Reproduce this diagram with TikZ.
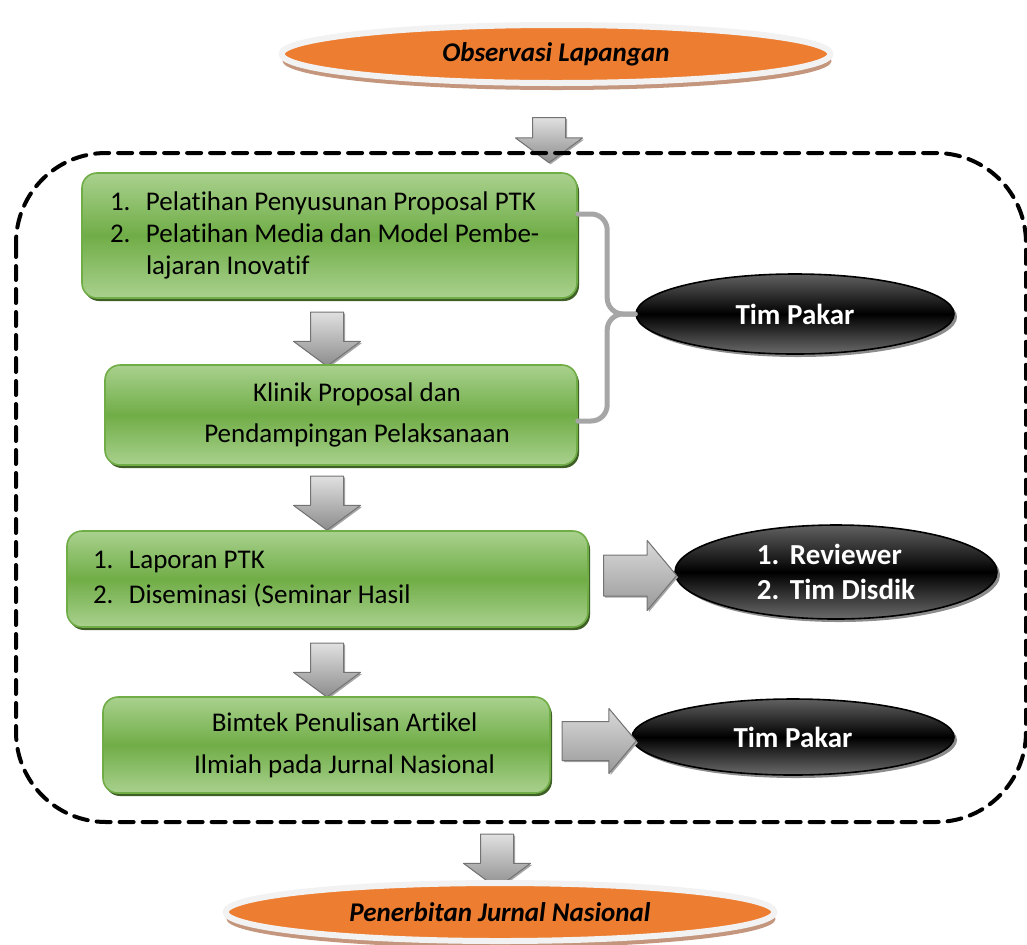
\documentclass[tikz,border=0pt]{standalone}
\usepackage{fontspec}
\setmainfont{Carlito}[Ligatures=NoCommon]
\usetikzlibrary{shapes.geometric,shapes.arrows,shadows,calc}
\definecolor{oranye}{RGB}{237,125,49}
\definecolor{hijaumuda}{RGB}{169,209,142}
\definecolor{hijau}{RGB}{112,173,71}
\definecolor{hijautua}{RGB}{62,96,38}
\definecolor{coklat}{RGB}{196,150,125}
\newcommand\itm[3][18pt]{\mbox{\spaceskip=0pt\xspaceskip=0pt\makebox[#1][l]{#2}#3}}

\begin{document}
\begin{tikzpicture}[x=.5pt, y=-.5pt, line join=round, line cap=round,
	kotak/.style={rectangle, rounded corners=7.5pt, draw=hijau, line width=.8pt,
		top color=hijaumuda, bottom color=hijaumuda, middle color=hijau,
		drop shadow={shadow xshift=1pt, shadow yshift=-1.5pt, fill=hijautua, opacity=1},
		inner sep=0pt, inner xsep=14pt},
	oval/.style={ellipse, fill=oranye, draw=black!5, line width=3pt, inner sep=0pt,
		minimum width=274.5pt, minimum height=29pt,
		drop shadow={shadow xshift=.5pt, shadow yshift=-3.5pt, fill=coklat, opacity=1},
		font=\fontsize{13.5}{16}\selectfont\bfseries\itshape},
	hitam/.style={ellipse, draw=black, line width=.8pt, inner sep=0pt,
		top color=black!62, bottom color=black!58, middle color=black,
		drop shadow={shadow xshift=1.5pt, shadow yshift=-1.5pt, fill=black!45, opacity=1},
		text=white, font=\fontsize{14.5}{17.5}\selectfont\bfseries},
	panah/.style={single arrow, draw=black!55, line width=.5pt, inner sep=8pt,
		minimum width=0pt, minimum height=27pt, single arrow head extend=8.5pt,
		single arrow tip angle=107, top color=black!12, bottom color=black!45,
		drop shadow={shadow xshift=.8pt, shadow yshift=-.8pt, fill=black!35, opacity=1}},
	kurung/.style={draw=black!35, line width=2.5pt, rounded corners=8pt}]
	\useasboundingbox (0,0) rectangle (1027,944);
	% alur utama
	\node[oval] (obs) at (556,54) {Observasi Lapangan};
	\node[panah, shape border rotate=270, minimum height=22.5pt] (p1) at (549,134) {};
	\node[kotak, minimum height=62.5pt, text width=219.5pt, align=left,
		font=\fontsize{13.5}{16}\selectfont] (box1) at (329.5,235.5)
		{\itm{1.}{Pelatihan Penyusunan Proposal PTK}\\ \itm{2.}{Pelatihan Media dan Model Pembe-}\\ \itm{}{lajaran Inovatif}};
	\node[panah, shape border rotate=270] (p2) at (327,333) {};
	\node[kotak, minimum width=236pt, minimum height=50pt, align=center,
		font=\fontsize{13.5}{20.5}\selectfont] (box2) at (341,415)
		{\hspace*{16pt}Klinik Proposal dan\\\hspace*{16pt}Pendampingan Pelaksanaan};
	\node[panah, shape border rotate=270] (p3) at (327,497) {};
	\node[kotak, minimum height=48pt, text width=234.5pt, align=left, inner xsep=13pt,
		font=\fontsize{13.5}{17.5}\selectfont] (box3) at (327.5,579)
		{\itm{1.}{Laporan PTK}\\ \itm{2.}{Diseminasi (Seminar Hasil}};
	\node[panah, shape border rotate=270] (p4) at (327,664) {};
	\node[kotak, minimum width=223.5pt, minimum height=48pt, align=center,
		font=\fontsize{13.5}{21}\selectfont] (box4) at (326.5,745)
		{\hspace*{18pt}Bimtek Penulisan Artikel\\\hspace*{18pt}Ilmiah pada Jurnal Nasional};
	\node[panah, shape border rotate=270] (p5) at (497,855) {};
	\node[oval] (terbit) at (500,912) {Penerbitan Jurnal Nasional};
	% pendamping
	\node[hitam, minimum width=159pt, minimum height=40pt] (pakar1) at (795,314) {Tim Pakar};
	\node[hitam, minimum width=161pt, minimum height=47pt, align=left] (rev) at (836,572)
		{\itm[16.5pt]{1.}{Reviewer}\\ \itm[16.5pt]{2.}{Tim Disdik}};
	\node[hitam, minimum width=161pt, minimum height=38pt] (pakar2) at (793,737) {Tim Pakar};
	\node[panah, inner sep=10pt, minimum height=36.5pt, single arrow head extend=7.25pt,
		single arrow tip angle=100, top color=black!15, bottom color=black!40]
		(q1) at ($(box3.east)!.5!(rev.west)$) {};
	\node[panah, inner sep=9.5pt, minimum height=37pt, single arrow head extend=6.5pt,
		single arrow tip angle=100, top color=black!15, bottom color=black!40]
		(q2) at ($(box4.east)!.5!(pakar2.west)$) {};
	\draw[kurung] ([yshift=10.75pt]box1.east) -| ([xshift=-14pt]pakar1.west) -- (pakar1.west);
	\draw[kurung] (pakar1.west) -- ++(-14pt,0) |- ([yshift=-3pt]box2.east);
	% bingkai putus-putus
	\draw[line width=2pt, dash pattern=on 7pt off 4.5pt, rounded corners=45pt]
		(16,153) rectangle (1026,822);
\end{tikzpicture}
\end{document}
